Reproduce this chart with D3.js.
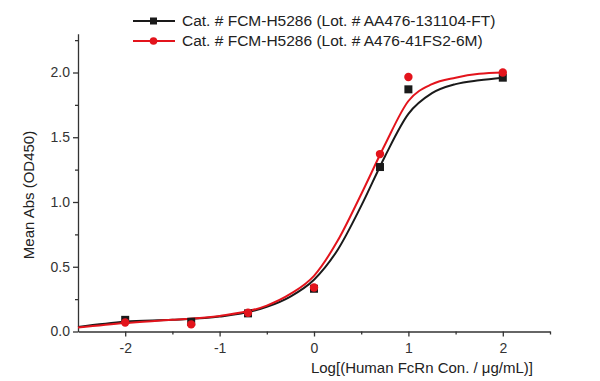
<!DOCTYPE html>
<html><head><meta charset="utf-8">
<script src="https://cdn.jsdelivr.net/npm/d3@7"></script>
<style>body{margin:0;background:#fff}svg{display:block}text{font-family:"Liberation Sans",Arial,sans-serif}</style>
</head><body><div id="c"></div>
<script>
const seriesNames = ["Cat. # FCM-H5286 (Lot. # AA476-131104-FT)", "Cat. # FCM-H5286 (Lot. # A476-41FS2-6M)"];
const logConc = [-2, -1.301, -0.699, 0, 0.699, 1, 2];
const blackValues = [0.09, 0.075, 0.14, 0.33, 1.27, 1.87, 1.96];
const redValues = [0.07, 0.055, 0.145, 0.34, 1.37, 1.965, 2.0];
const curveX = [-2.5, -2.0, -1.5, -1.0, -0.5, -0.25, 0, 0.25, 0.5, 0.75, 1.0, 1.25, 1.5, 1.75, 2.0];
const blackCurve = [0.035, 0.075, 0.09, 0.115, 0.19, 0.27, 0.40, 0.63, 0.97, 1.35, 1.68, 1.84, 1.91, 1.94, 1.96];
const redCurve = [0.03, 0.065, 0.09, 0.12, 0.20, 0.29, 0.43, 0.70, 1.06, 1.44, 1.78, 1.91, 1.96, 1.99, 2.0];
const xTicks = [-2, -1, 0, 1, 2];
const xMinor = [-1.5, -0.5, 0.5, 1.5, 2.5];
const yTicks = [0, 0.5, 1.0, 1.5, 2.0];
const yMinor = [0.25, 0.75, 1.25, 1.75, 2.25];
const xTitle = "Log[(Human FcRn Con. / μg/mL)]";
const yTitle = "Mean Abs (OD450)";

const W = 600, H = 381;
const svg = d3.select("#c").append("svg").attr("width", W).attr("height", H);
const x = d3.scaleLinear().domain([-2.5, 2.5]).range([78, 550]);
const y = d3.scaleLinear().domain([0, 2.3]).range([331.5, 331.5 - 2.3 * 129.5]);
const axisColor = "#333";

// x axis
const gx = svg.append("g").attr("transform", `translate(0,${y(0)})`)
  .call(d3.axisBottom(x).tickValues(xTicks).tickFormat(d => d < 0 ? "-" + Math.abs(d) : d).tickSize(5).tickSizeOuter(0));
svg.append("g").attr("transform", `translate(0,${y(0)})`)
  .call(d3.axisBottom(x).tickValues(xMinor).tickFormat("").tickSize(3).tickSizeOuter(0))
  .select(".domain").remove();
gx.selectAll("text").attr("font-size", 14).attr("fill", "#333").attr("dy", "0.95em");

// y axis
const gy = svg.append("g").attr("transform", `translate(${x(-2.5)},0)`)
  .call(d3.axisLeft(y).tickValues(yTicks).tickFormat(d3.format(".1f")).tickSize(5).tickSizeOuter(0));
svg.append("g").attr("transform", `translate(${x(-2.5)},0)`)
  .call(d3.axisLeft(y).tickValues(yMinor).tickFormat("").tickSize(3).tickSizeOuter(0))
  .select(".domain").remove();
gy.selectAll("text").attr("font-size", 14).attr("fill", "#333");
svg.selectAll(".domain, .tick line").attr("stroke", axisColor).attr("stroke-width", 1.3);

// titles
svg.append("text").attr("x", 533).attr("y", 373).attr("text-anchor", "end")
  .attr("font-size", 15).attr("fill", "#222").text(xTitle);
svg.append("text").attr("transform", `translate(34,${195}) rotate(-90)`).attr("text-anchor", "middle")
  .attr("font-size", 15).attr("fill", "#222").text(yTitle);

const line = d3.line().x((d, i) => x(curveX[i])).y(d => y(d)).curve(d3.curveMonotoneX);
const colors = ["#1a1a1a", "#e3141c"];
svg.append("path").attr("d", line(blackCurve)).attr("fill", "none").attr("stroke", colors[0]).attr("stroke-width", 2);
svg.append("path").attr("d", line(redCurve)).attr("fill", "none").attr("stroke", colors[1]).attr("stroke-width", 2);

// markers
svg.append("g").selectAll("rect").data(blackValues).join("rect")
  .attr("x", (d, i) => x(logConc[i]) - 4).attr("y", d => y(d) - 4)
  .attr("width", 8).attr("height", 8).attr("fill", colors[0]);
svg.append("g").selectAll("circle").data(redValues).join("circle")
  .attr("cx", (d, i) => x(logConc[i])).attr("cy", d => y(d)).attr("r", 4.2).attr("fill", colors[1]);

// legend
const leg = svg.append("g");
const rows = [21, 41];
seriesNames.forEach((name, i) => {
  const ly = rows[i];
  leg.append("line").attr("x1", 133).attr("x2", 175).attr("y1", ly).attr("y2", ly)
    .attr("stroke", colors[i]).attr("stroke-width", 2);
  if (i === 0) leg.append("rect").attr("x", 150).attr("y", ly - 3.5).attr("width", 7).attr("height", 7).attr("fill", colors[i]);
  else leg.append("circle").attr("cx", 153.5).attr("cy", ly).attr("r", 3.8).attr("fill", colors[i]);
  leg.append("text").attr("x", 182).attr("y", ly).attr("dy", "0.35em")
    .attr("font-size", 15.5).attr("fill", "#222").text(name);
});
</script></body></html>
